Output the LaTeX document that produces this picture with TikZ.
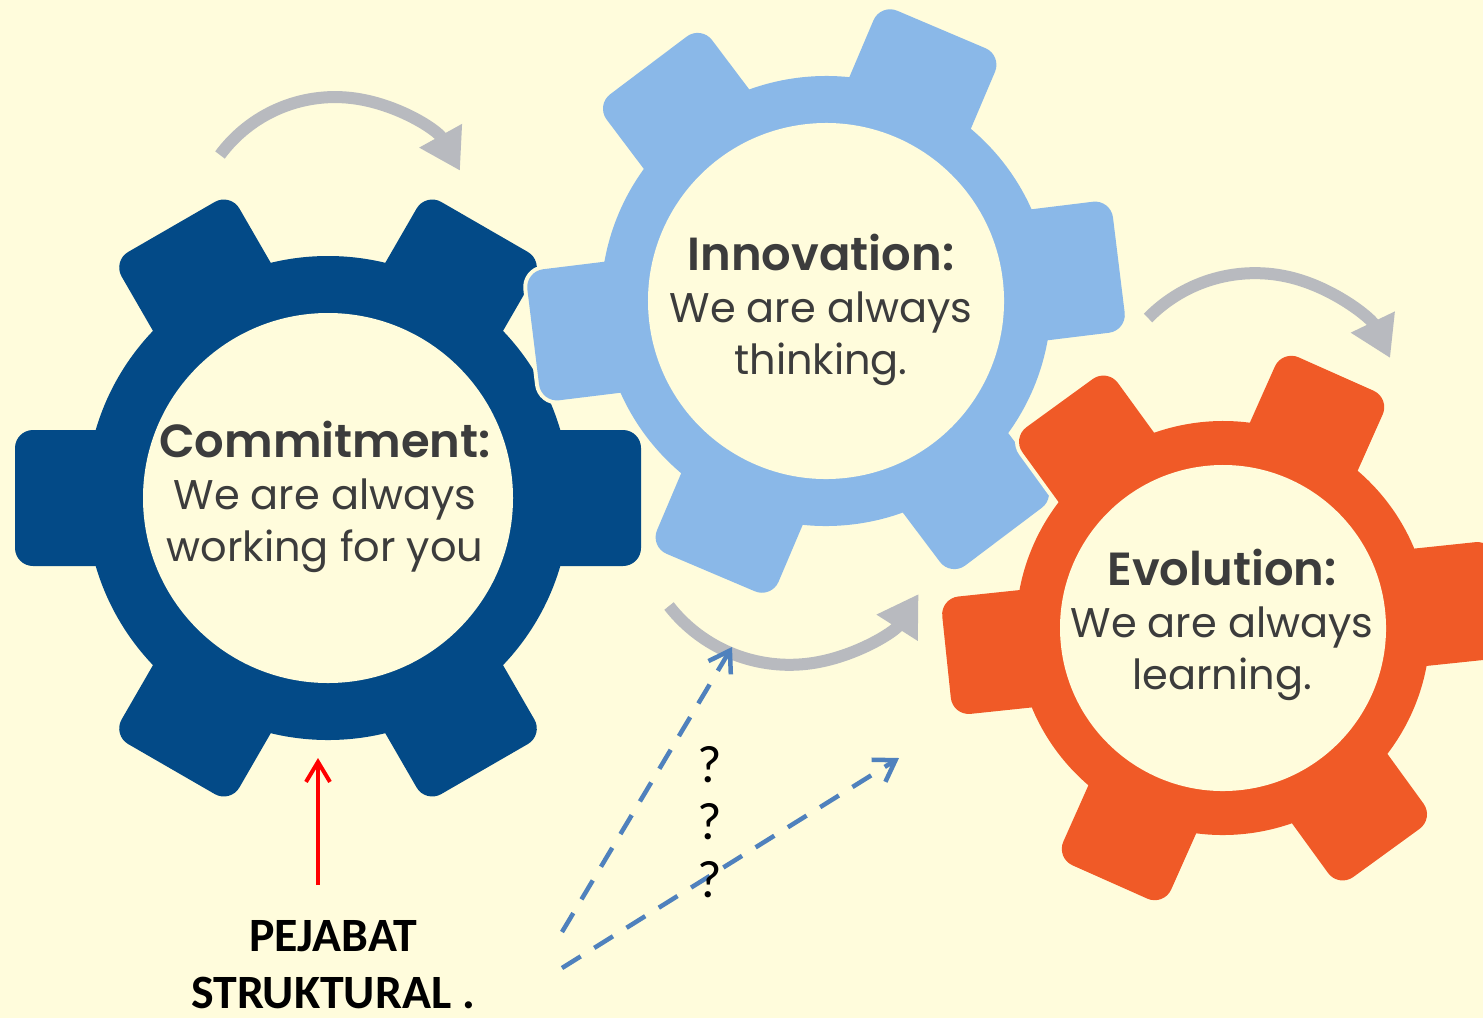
\documentclass[tikz,border=0pt]{standalone}
\usepackage{fontspec}
\usepackage{tikz}
\usepackage{xcolor}
\usetikzlibrary{arrows.meta,positioning}
\setmainfont{Carlito}
\newfontfamily\gearfont{Poppins}[BoldFont={Poppins SemiBold}]
\definecolor{bgcream}{RGB}{255,252,220}
\definecolor{commitblue}{RGB}{3,74,135}
\definecolor{innovblue}{RGB}{138,184,232}
\definecolor{evolorange}{RGB}{240,90,39}
\definecolor{arcgrey}{RGB}{184,186,191}
\definecolor{askblue}{RGB}{79,129,189}
\definecolor{textgrey}{RGB}{60,60,60}

% #1 centre, #2 turn, #3 ring radius, #4 tooth reach, #5 tooth half width, #6 hub radius, #7 colour
\newcommand{\drawcog}[7]{%
  \begin{scope}[shift={#1}, rotate=#2]
    \fill[bgcream] (0,0) circle[radius=#3+4];
    \foreach \a in {0,60,...,300}
      \filldraw[bgcream, line width=0.08cm, rotate=\a, rounded corners=0.18cm] (0,-#5) rectangle (#4,#5);
    \fill[#7] (0,0) circle[radius=#3];
    \foreach \a in {0,60,...,300}
      \fill[#7, rotate=\a, rounded corners=0.18cm] (0,-#5) rectangle (#4,#5);
    \fill[bgcream] (0,0) circle[radius=#6];
  \end{scope}}

\tikzset{
  geartext/.style={align=center, text=textgrey, inner sep=0pt,
    font=\gearfont\fontsize{11.8}{14.8}\selectfont},
  greyarc/.style={draw=arcgrey, line width=0.12cm, -{Triangle[length=0.4cm,width=0.46cm]}},
  askarrow/.style={draw=askblue, line width=0.045cm, dash pattern=on 0.22cm off 0.16cm,
    -{Straight Barb[length=0.2cm,width=0.26cm]}},
  quest/.style={font=\fontsize{15}{16}\selectfont, inner sep=0pt},
}
\newcommand{\geartitle}[1]{{\bfseries\fontsize{13.2}{14.8}\selectfont #1}}

\begin{document}
\begin{tikzpicture}[x=0.01cm, y=0.01cm]
    \useasboundingbox (0,0) rectangle (1483,-1018);
    \clip (0,0) rectangle (1483,-1018);
    \fill[bgcream] (0,0) rectangle (1483,-1018);

    % the three cogs
    \drawcog{(328,-498)}{0}{242}{313}{68}{185}{commitblue}
    \drawcog{(826,-301)}{7}{225}{295}{66}{178}{innovblue}
    \drawcog{(1223,-628)}{6}{207}{278}{59}{163}{evolorange}

    \node[geartext] (commit) at (325,-497) {\geartitle{Commitment:}\\We are always\\working for you};
    \node[geartext] (innov) at (821,-310) {\geartitle{Innovation:}\\We are always\\thinking.};
    \node[geartext] (evol) at (1222,-625) {\geartitle{Evolution:}\\We are always\\learning.};

    % turning arrows
    \draw[greyarc] (220,-155) arc[start angle=143.5, end angle=29, radius=143];
    \draw[greyarc] (1148,-318) arc[start angle=135.5, end angle=25.7, radius=150];
    \draw[greyarc] (669,-606) arc[start angle=218, end angle=327.5, radius=153];

    % label and arrows
    \node[font=\bfseries\fontsize{13.6}{16.2}\selectfont, align=center, inner sep=0pt] (pejabat) at (333,-965) {PEJABAT\\STRUKTURAL .};
    \coordinate (redtail) at (318,-885);
    \coordinate (redtip) at (318,-758);
    \draw[red, line width=0.04cm, -{Straight Barb[length=0.2cm,width=0.24cm]}] (redtail) -- (redtip);

    \coordinate (askA) at (562,-932);
    \coordinate (askB) at (562,-968);
    \coordinate (innovtarget) at (732,-647);
    \coordinate (evoltarget) at (899,-758);
    \draw[askarrow] (askA) -- (innovtarget);
    \draw[askarrow] (askB) -- (evoltarget);

    \node[quest] (q1) at (710,-765) {?};
    \node[quest] (q2) at (710,-822) {?};
    \node[quest] (q3) at (710,-880) {?};
\end{tikzpicture}
\end{document}
